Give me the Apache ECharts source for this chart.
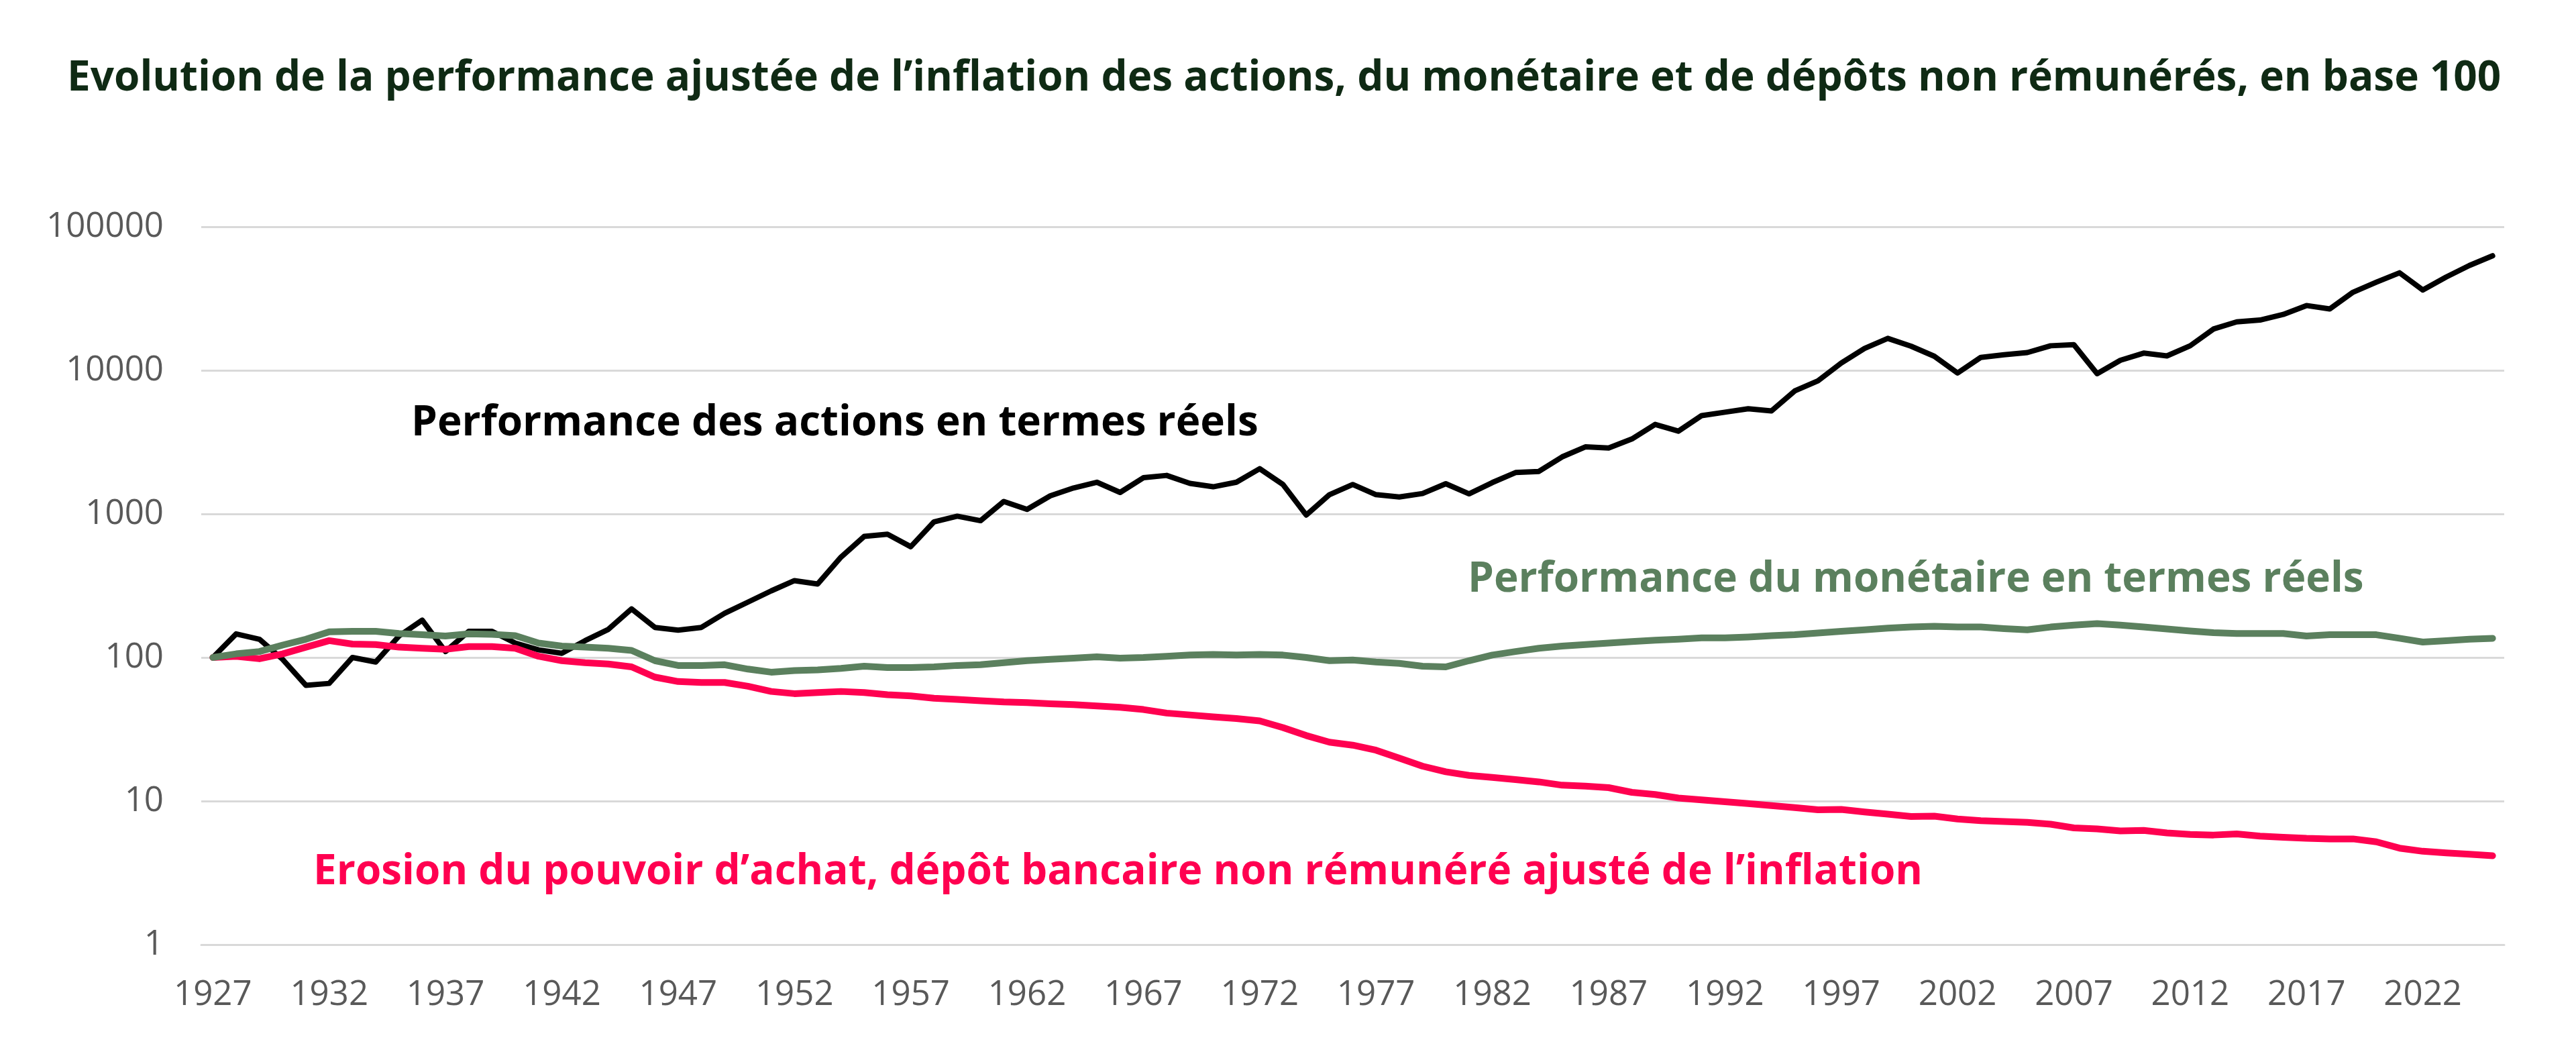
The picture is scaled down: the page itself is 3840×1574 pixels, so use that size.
<!DOCTYPE html>
<html>
<head>
<meta charset="utf-8">
<script src="https://cdn.jsdelivr.net/npm/echarts@6/dist/echarts.min.js"></script>
<style>
  html, body { margin: 0; padding: 0; background: #fff; }
  #chart { width: 3840px; height: 1574px; }
</style>
</head>
<body>
<div id="chart"></div>
<script>
// années 1927 -> 2025
var years = [];
for (var y = 1927; y <= 2025; y++) years.push(String(y));

// performance réelle des actions (base 100)
var actions = [
  100, 146, 134, 97, 64, 66, 100, 93, 141, 182,
  110, 152, 152, 126, 113, 107, 131, 157, 218, 162,
  155, 162, 203, 243, 291, 343, 325, 500, 697, 722,
  591, 881, 964, 897, 1221, 1075, 1336, 1517, 1662, 1411,
  1786, 1854, 1633, 1545, 1662, 2065, 1603, 982, 1361, 1603,
  1361, 1313, 1386, 1623, 1380, 1653, 1941, 1977, 2495, 2931,
  2880, 3326, 4200, 3770, 4840, 5113, 5397, 5210, 7190, 8450,
  11250, 14210, 16700, 14730, 12530, 9580, 12310, 12850, 13300, 14830,
  15100, 9480, 11750, 13180, 12600, 14830, 19400, 21750, 22400, 24500,
  28270, 26770, 35000, 41100, 47800, 36300, 44600, 53700, 62800
];

// performance réelle du monétaire
var monetaire = [
  100, 106, 110, 122, 134, 151, 152, 152, 147, 144,
  141, 146, 145, 142, 126, 120, 118, 116, 112, 95,
  88, 88, 89, 83, 79, 81, 82, 84, 87, 85,
  85, 86, 88, 89, 92, 95, 97, 99, 101, 99,
  100, 102, 104, 105, 104, 105, 104, 100, 95, 96,
  93, 91, 87, 86, 95, 104, 110, 116, 120, 123,
  126, 129, 132, 134, 137, 137, 139, 142, 144, 148,
  152, 156, 160, 163, 165, 163, 163, 159, 156, 163,
  168, 172, 168, 163, 158, 153, 149, 147, 147, 147,
  141, 144, 144, 144, 136, 128, 131, 134, 136
];

// dépôt non rémunéré ajusté de l'inflation
var depot = [
  100, 102, 98, 106, 118, 131, 124, 123, 118, 116,
  114, 119, 119, 116, 102, 95, 92, 90, 86, 73,
  68, 67, 67, 63, 58, 56, 57, 58, 57, 55,
  54, 52, 51, 50, 49, 48.5, 47.6, 47, 46, 45,
  43.4, 41, 39.8, 38.6, 37.6, 36.2, 32.5, 28.6, 25.7, 24.5,
  22.6, 19.9, 17.5, 16, 15.1, 14.6, 14.1, 13.6, 12.9, 12.7,
  12.4, 11.5, 11.1, 10.5, 10.2, 9.9, 9.6, 9.3, 9.0, 8.7,
  8.75, 8.4, 8.1, 7.8, 7.85, 7.5, 7.3, 7.2, 7.1, 6.9,
  6.5, 6.4, 6.2, 6.25, 6.0, 5.85, 5.8, 5.9, 5.7, 5.6,
  5.5, 5.45, 5.45, 5.2, 4.7, 4.47, 4.36, 4.26, 4.16
];

var FONT = '"Open Sans", "Noto Sans", sans-serif';
var chart = echarts.init(document.getElementById('chart'));

var option = {
  animation: false,
  backgroundColor: '#ffffff',
  grid: { left: 300, right: 107, top: 338, bottom: 166 },
  xAxis: {
    type: 'category',
    data: years,
    boundaryGap: true,
    axisLine: { lineStyle: { color: '#d9d9d9', width: 3 } },
    axisTick: { interval: 4, length: 18, lineStyle: { color: '#d9d9d9', width: 2 } },
    axisLabel: { interval: 4, color: '#595959', fontSize: 51, fontFamily: FONT, margin: 50 },
    splitLine: { show: false }
  },
  yAxis: {
    type: 'log',
    logBase: 10,
    min: 1,
    max: 100000,
    axisLine: { show: false },
    axisTick: { show: false },
    axisLabel: {
      color: '#595959', fontSize: 51, fontFamily: FONT, margin: 56,
      formatter: function (v) { return String(Math.round(v)); }
    },
    splitLine: { lineStyle: { color: '#d9d9d9', width: 3 } }
  },
  graphic: [
    {
      type: 'text', left: 100, top: 86,
      style: { text: 'Evolution de la performance ajustée de l\u2019inflation des actions, du monétaire et de dépôts non rémunérés, en base 100',
        font: 'bold 62px ' + FONT, fill: '#0f2a14' }
    },
    {
      type: 'text', left: 613, top: 600,
      style: { text: 'Performance des actions en termes réels', font: 'bold 62px ' + FONT, fill: '#000000' }
    },
    {
      type: 'text', left: 2188, top: 833,
      style: { text: 'Performance du monétaire en termes réels', font: 'bold 62px ' + FONT, fill: '#5b805e' }
    },
    {
      type: 'text', left: 467, top: 1269,
      style: { text: 'Erosion du pouvoir d\u2019achat, dépôt bancaire non rémunéré ajusté de l\u2019inflation', font: 'bold 62px ' + FONT, fill: '#ff0050' }
    }
  ],
  series: [
    {
      name: 'Actions', type: 'line', data: actions, symbol: 'none',
      lineStyle: { color: '#000000', width: 8, join: 'round', cap: 'round' }, z: 2
    },
    {
      name: 'Dépôt', type: 'line', data: depot, symbol: 'none',
      lineStyle: { color: '#ff0050', width: 10, join: 'round', cap: 'round' }, z: 3
    },
    {
      name: 'Monétaire', type: 'line', data: monetaire, symbol: 'none',
      lineStyle: { color: '#5b805e', width: 10, join: 'round', cap: 'round' }, z: 4
    }
  ]
};

chart.setOption(option);
</script>
</body>
</html>
